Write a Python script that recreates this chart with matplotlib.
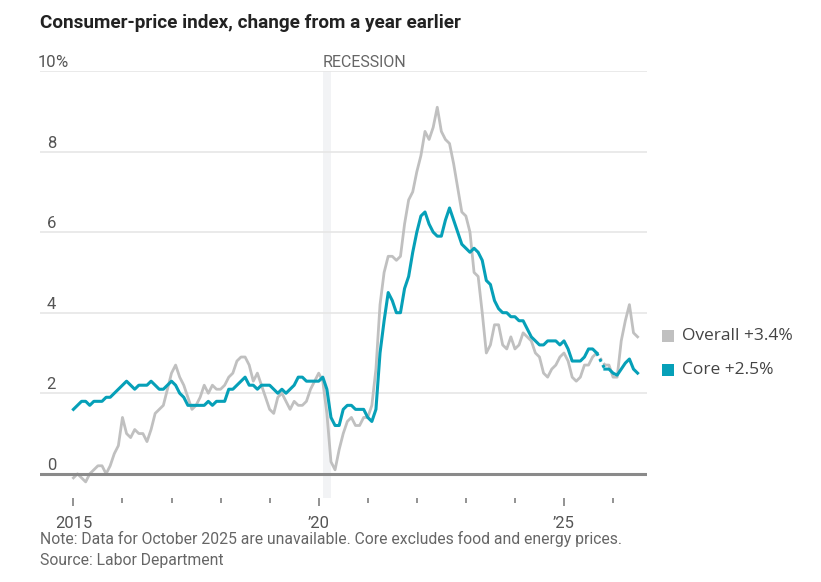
import numpy as np
import matplotlib
matplotlib.use("Agg")
import matplotlib.pyplot as plt
import matplotlib.transforms as mtransforms
from matplotlib.patches import Rectangle
from matplotlib import font_manager

# Monthly CPI, change from a year earlier (%), Jan 2015 - Jul 2026
# October 2025 unavailable -> nan
nan = np.nan
overall = [
    -0.1, 0.0, -0.1, -0.2, 0.0, 0.1, 0.2, 0.2, 0.0, 0.2, 0.5, 0.7,  # 2015
    1.4, 1.0, 0.9, 1.1, 1.0, 1.0, 0.8, 1.1, 1.5, 1.6, 1.7, 2.1,  # 2016
    2.5, 2.7, 2.4, 2.2, 1.9, 1.6, 1.7, 1.9, 2.2, 2.0, 2.2, 2.1,  # 2017
    2.1, 2.2, 2.4, 2.5, 2.8, 2.9, 2.9, 2.7, 2.3, 2.5, 2.2, 1.9,  # 2018
    1.6, 1.5, 1.9, 2.0, 1.8, 1.6, 1.8, 1.7, 1.7, 1.8, 2.1, 2.3,  # 2019
    2.5, 2.3, 1.5, 0.3, 0.1, 0.6, 1.0, 1.3, 1.4, 1.2, 1.2, 1.4,  # 2020
    1.4, 1.7, 2.6, 4.2, 5.0, 5.4, 5.4, 5.3, 5.4, 6.2, 6.8, 7.0,  # 2021
    7.5, 7.9, 8.5, 8.3, 8.6, 9.1, 8.5, 8.3, 8.2, 7.7, 7.1, 6.5,  # 2022
    6.4, 6.0, 5.0, 4.9, 4.0, 3.0, 3.2, 3.7, 3.7, 3.2, 3.1, 3.4,  # 2023
    3.1, 3.2, 3.5, 3.4, 3.3, 3.0, 2.9, 2.5, 2.4, 2.6, 2.7, 2.9,  # 2024
    3.0, 2.8, 2.4, 2.3, 2.4, 2.7, 2.7, 2.9, 3.0, nan, 2.7, 2.7,  # 2025
    2.4, 2.4, 3.3, 3.8, 4.2, 3.5, 3.4,  # 2026
]
core = [
    1.6, 1.7, 1.8, 1.8, 1.7, 1.8, 1.8, 1.8, 1.9, 1.9, 2.0, 2.1,  # 2015
    2.2, 2.3, 2.2, 2.1, 2.2, 2.2, 2.2, 2.3, 2.2, 2.1, 2.1, 2.2,  # 2016
    2.3, 2.2, 2.0, 1.9, 1.7, 1.7, 1.7, 1.7, 1.7, 1.8, 1.7, 1.8,  # 2017
    1.8, 1.8, 2.1, 2.1, 2.2, 2.3, 2.4, 2.2, 2.2, 2.1, 2.2, 2.2,  # 2018
    2.2, 2.1, 2.0, 2.1, 2.0, 2.1, 2.2, 2.4, 2.4, 2.3, 2.3, 2.3,  # 2019
    2.3, 2.4, 2.1, 1.4, 1.2, 1.2, 1.6, 1.7, 1.7, 1.6, 1.6, 1.6,  # 2020
    1.4, 1.3, 1.6, 3.0, 3.8, 4.5, 4.3, 4.0, 4.0, 4.6, 4.9, 5.5,  # 2021
    6.0, 6.4, 6.5, 6.2, 6.0, 5.9, 5.9, 6.3, 6.6, 6.3, 6.0, 5.7,  # 2022
    5.6, 5.5, 5.6, 5.5, 5.3, 4.8, 4.7, 4.3, 4.1, 4.0, 4.0, 3.9,  # 2023
    3.9, 3.8, 3.8, 3.6, 3.4, 3.3, 3.2, 3.2, 3.3, 3.3, 3.3, 3.2,  # 2024
    3.3, 3.1, 2.8, 2.8, 2.8, 2.9, 3.1, 3.1, 3.0, nan, 2.6, 2.6,  # 2025
    2.5, 2.45, 2.6, 2.75, 2.85, 2.6, 2.5,  # 2026
]
start_year = 2015
recession = (2020 + 1 / 12, 2020 + 3 / 12)  # Feb - Apr 2020

y_ticks = [0, 2, 4, 6, 8, 10]
x_major = [2015, 2020, 2025]
x_major_labels = ["2015", "\u201920", "\u201925"]
x_minor = [2016, 2017, 2018, 2019, 2021, 2022, 2023, 2024, 2026]

legend_labels = ["Overall +3.4%", "Core +2.5%"]

GRAY = "#c0c0c0"
TEAL = "#06a0b8"

names = {f.name for f in font_manager.fontManager.ttflist}
NARROW = "Liberation Sans Narrow" if "Liberation Sans Narrow" in names else "Roboto"
plt.rcParams["font.family"] = [NARROW, "DejaVu Sans"]

W, H = 821, 582


def fx(px):
    return px / W


def fy(py):
    return 1 - py / H


fig = plt.figure(figsize=(W / 100, H / 100), dpi=100)
ax = fig.add_axes([fx(40), fy(498), fx(647) - fx(40), fy(71) - fy(498)])

x = start_year + np.arange(len(overall)) / 12
overall = np.array(overall, dtype=float)
core = np.array(core, dtype=float)

ax.set_xlim(start_year - 33.4 / 49.06, start_year + (647 - 73.4) / 49.06)
ax.set_ylim(-0.6, 10)

# recession band
ax.axvspan(recession[0], recession[1], color="#f2f3f5", zorder=0, lw=0)

# gridlines
for v in y_ticks[1:]:
    ax.axhline(v, color="#e6e6e6", lw=1.2, zorder=1)
ax.axhline(0, color="#8a8a8a", lw=2.2, zorder=4)

ax.plot(x, overall, color=GRAY, lw=2.0, zorder=2, solid_joinstyle="round")
ax.plot(x, core, color=TEAL, lw=2.2, zorder=3, solid_joinstyle="round")

# dotted connectors over the missing month
gap = np.where(np.isnan(overall))[0][0]
ax.plot(x[[gap - 1, gap + 1]], overall[[gap - 1, gap + 1]], color=GRAY,
        lw=2.0, ls=(0, (1, 1.2)), zorder=2)
ax.plot(x[[gap - 1, gap + 1]], core[[gap - 1, gap + 1]], color=TEAL,
        lw=2.2, ls=(0, (1, 1.2)), zorder=3)

for s in ax.spines.values():
    s.set_visible(False)
ax.set_yticks([])
ax.set_xticks(x_major)
ax.set_xticklabels(x_major_labels)
ax.set_xticks(x_minor, minor=True)
ax.tick_params(axis="x", which="major", length=6, width=1.3, color="#8a8a8a",
               pad=7, labelsize=12, labelcolor="#555555")
ax.tick_params(axis="x", which="minor", length=3.5, width=1.3, color="#8a8a8a")

# y labels: digits right-aligned, % hanging
blend = mtransforms.blended_transform_factory(fig.transFigure, ax.transData)
for v in y_ticks:
    ax.annotate(str(v), xy=(fx(56), v), xycoords=blend, xytext=(0, 4),
                textcoords="offset pixels", ha="right", va="baseline",
                fontsize=12, color="#555555", annotation_clip=False)
ax.annotate("%", xy=(fx(55.5), 10), xycoords=blend, xytext=(0, 4),
            textcoords="offset pixels", ha="left", va="baseline",
            fontsize=12, color="#555555", annotation_clip=False)

ax.annotate("RECESSION", xy=(recession[0], 10), xytext=(0, 4),
            textcoords="offset pixels", ha="left", va="baseline",
            fontsize=11.5, color="#666666", annotation_clip=False)

fig.text(fx(40), fy(23), "Consumer-price index, change from a year earlier",
         ha="left", va="center", fontsize=13.6, fontweight="bold", color="#222222")

fig.text(fx(40), fy(539), "Note: Data for October 2025 are unavailable. "
         "Core excludes food and energy prices.",
         ha="left", va="center", fontsize=11.3, color="#666666")
fig.text(fx(40), fy(561), "Source: Labor Department",
         ha="left", va="center", fontsize=11.3, color="#666666")

# legend
for i, (lab, col) in enumerate(zip(legend_labels, [GRAY, TEAL])):
    cy = 336 + i * 34
    fig.patches.append(Rectangle((fx(662), fy(cy + 6)), fx(12), 12 / H,
                                 transform=fig.transFigure, color=col, lw=0))
    fig.text(fx(682), fy(cy), lab, ha="left", va="center", fontsize=12.5,
             color="#444444", family=["Open Sans", "DejaVu Sans"])

fig.savefig("out.png", dpi=100)
